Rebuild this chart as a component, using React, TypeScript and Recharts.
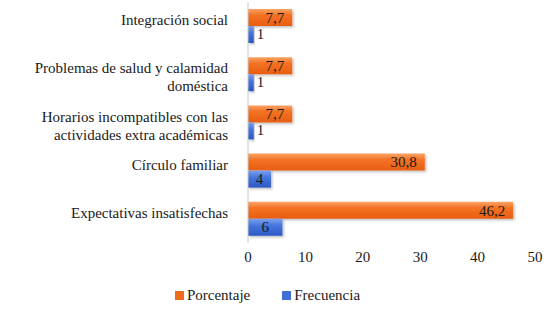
import { BarChart, Bar, XAxis, YAxis, Legend, LabelList, Text } from "recharts";

const categories = [
  "Integración social",
  "Problemas de salud y calamidad doméstica",
  "Horarios incompatibles con las actividades extra académicas",
  "Círculo familiar",
  "Expectativas insatisfechas"
];
const porcentaje = [7.7, 7.7, 7.7, 30.8, 46.2];
const frecuencia = [1, 1, 1, 4, 6];
const xTicks = [0, 10, 20, 30, 40, 50];

const chartData = categories.map((name, i) => ({
  name,
  porcentaje: porcentaje[i],
  frecuencia: frecuencia[i]
}));

const font = "Tinos, \"Times New Roman\", \"Liberation Serif\", serif";
const comma = (v: any) => String(v).replace(".", ",");

const CategoryTick = (props: any) => {
  const { x, y, payload } = props;
  return (
    <Text
      x={x}
      y={y - 1}
      width={236}
      textAnchor="end"
      verticalAnchor="middle"
      lineHeight={18}
      fontSize={15}
      fontFamily={font}
      fill="#1a1a1a"
    >
      {payload.value}
    </Text>
  );
};

const FreqLabel = (props: any) => {
  const { x, y, width, height, value } = props;
  const inside = width > 15;
  return (
    <text
      x={inside ? x + width / 2 : x + width + 3}
      y={y + height / 2 + 1}
      textAnchor={inside ? "middle" : "start"}
      dominantBaseline="middle"
      fontSize={15}
      fontFamily={font}
      fill="#1a1a1a"
    >
      {comma(value)}
    </text>
  );
};

const legendItems = [
  { label: "Porcentaje", color: "#f26b1d" },
  { label: "Frecuencia", color: "#3f6fd6" }
];

const ChartLegend = () => (
  <div style={{ display: "flex", justifyContent: "center", fontFamily: font, fontSize: 15, color: "#1a1a1a" }}>
    {legendItems.map((item, i) => (
      <div key={item.label} style={{ display: "flex", alignItems: "center", marginLeft: i ? 32 : 0 }}>
        <span style={{ width: 9, height: 9, background: item.color, display: "inline-block", marginRight: 3 }} />
        {item.label}
      </div>
    ))}
  </div>
);

const App = () => (
  <div style={{ position: "absolute", left: 0, top: 0, width: 560, height: 310, background: "#fff", fontFamily: font }}>
    <BarChart
      width={560}
      height={310}
      data={chartData}
      layout="vertical"
      margin={{ top: 2, right: 25, left: 0, bottom: 6 }}
      barGap={0}
      barSize={17}
    >
      <defs>
        <linearGradient id="gOrange" x1="0" y1="0" x2="0" y2="1">
          <stop offset="0%" stopColor="#f9a466" />
          <stop offset="35%" stopColor="#f47325" />
          <stop offset="100%" stopColor="#e85d10" />
        </linearGradient>
        <linearGradient id="gBlue" x1="0" y1="0" x2="0" y2="1">
          <stop offset="0%" stopColor="#7aa0ec" />
          <stop offset="40%" stopColor="#4676dc" />
          <stop offset="100%" stopColor="#2c58c4" />
        </linearGradient>
        <filter id="shadow" x="-5%" y="-20%" width="115%" height="160%">
          <feDropShadow dx="1.5" dy="1.5" stdDeviation="1" floodColor="#000" floodOpacity="0.25" />
        </filter>
      </defs>
      <XAxis
        type="number"
        domain={[0, 50]}
        ticks={xTicks}
        axisLine={false}
        tickLine={false}
        height={44}
        tick={{ fontSize: 15, fontFamily: font, fill: "#1a1a1a", dy: 0 }}
      />
      <YAxis
        type="category"
        dataKey="name"
        width={248}
        axisLine={{ stroke: "#c8c8c8" }}
        tickLine={false}
        tick={<CategoryTick />}
        tickMargin={14}
      />
      <Legend verticalAlign="bottom" content={<ChartLegend />} wrapperStyle={{ bottom: 6 }} />
      <Bar dataKey="porcentaje" name="Porcentaje" fill="url(#gOrange)" filter="url(#shadow)" isAnimationActive={false}>
        <LabelList
          dataKey="porcentaje"
          position="insideRight"
          offset={8}
          formatter={comma}
          style={{ fontSize: 15, fontFamily: font, fill: "#1a1a1a" }}
        />
      </Bar>
      <Bar dataKey="frecuencia" name="Frecuencia" fill="url(#gBlue)" filter="url(#shadow)" isAnimationActive={false}>
        <LabelList dataKey="frecuencia" content={<FreqLabel />} />
      </Bar>
    </BarChart>
  </div>
);

export default App;
